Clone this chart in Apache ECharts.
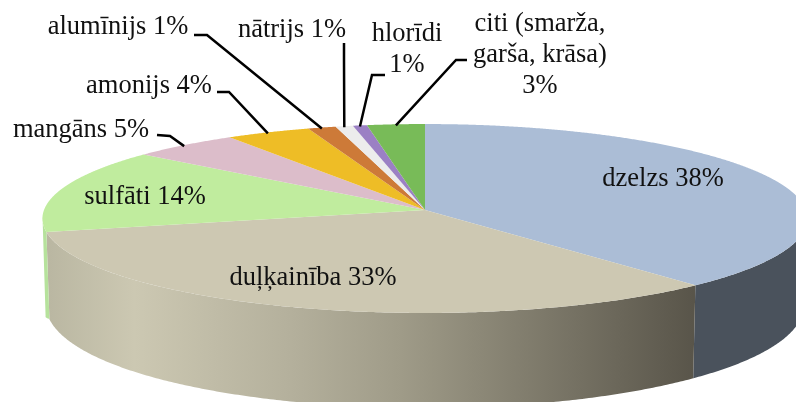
<!DOCTYPE html>
<html>
<head>
<meta charset="utf-8">
<style>
  html, body { margin: 0; padding: 0; background: #fff; }
  #chart { width: 796px; height: 402px; }
</style>
<script src="https://cdn.jsdelivr.net/npm/echarts@6/dist/echarts.min.js"></script>
</head>
<body>
<div id="chart"></div>
<script>
// clockwise from 12 o'clock (labels show them rounded)
var categories = ["dzelzs", "duļķainība", "sulfāti", "mangāns", "amonijs", "alumīnijs", "nātrijs", "hlorīdi", "citi (smarža,\ngarša, krāsa)"];
var shares = [38.49, 32.81, 14.45, 4.95, 3.9, 1.3, 0.8, 0.65, 2.65];
var topColors = ["#abbdd6", "#cdc8b2", "#c0ec9e", "#dcbdca", "#eebd26", "#cd7a38", "#ececec", "#9b80c4", "#78bb58"];
var wrapped = ["hlorīdi", "citi (smarža,\ngarša, krāsa)"];

// where the labels sit, and the elbow of each leader line (null = no leader)
var labelPos = [[663, 179], [313, 278], [145, 197], [81, 130], [149, 86], [118, 27], [292, 30], [407, 50], [540, 55]];
var leaders = [null, null, null, [[157, 135], [170, 136]], [[217, 92], [229, 92]], [[194, 35], [207, 35]], [[344, 43], [344, 60]], [[385, 75], [372, 75]], [[467, 60], [456, 60]]];

var total = shares.reduce(function (a, b) { return a + b; }, 0);
var acc = 0;
var rows = shares.map(function (v) {
  var row = [acc / total * 360, (acc + v) / total * 360, v];
  acc += v;
  return row;
});

// perspective projection of the disc
var cx = 425, cy = 210, rx = 381, ry = 93.7, k = -0.09;

function rim(deg) {
  var a = deg * Math.PI / 180;
  var u = Math.sin(a), v = -Math.cos(a);
  var d = 1 + k * v;
  return [cx + rx * u / d, cy + ry * v / d, v];
}

function lower(deg) {
  var p = rim(deg);
  var depth = p[2] < 0.23 ? 87 + (0.23 - p[2]) * 80 : 80 + 15 * Math.sqrt(p[2]);
  return [cx + (p[0] - cx) * 0.992, p[1] + depth];
}

function sideFill(i) {
  if (i === 0) return "#4a525c";
  if (i === 2) return "#b6e29c";
  return new echarts.graphic.LinearGradient(44, 0, 693, 0, [
    { offset: 0, color: "#b9b6a1" },
    { offset: 0.14, color: "#ccc8b2" },
    { offset: 0.38, color: "#b4b09c" },
    { offset: 0.55, color: "#9f9b88" },
    { offset: 1, color: "#59554a" }
  ], true);
}

function renderSlice(params, api) {
  var i = params.dataIndex;
  var start = api.value(0), end = api.value(1);
  var children = [];
  var deg;

  // wall, only for the part facing the viewer
  var wallFrom = Math.max(start, 85), wallTo = Math.min(end, 266);
  if (wallFrom < wallTo) {
    var up = [], down = [];
    for (deg = wallFrom; deg < wallTo; deg += 0.5) {
      up.push(rim(deg));
      down.unshift(lower(deg));
    }
    up.push(rim(wallTo));
    down.unshift(lower(wallTo));
    children.push({
      type: "polygon",
      shape: { points: up.map(function (p) { return [p[0], p[1]]; }).concat(down) },
      style: { fill: sideFill(i) }
    });
  }

  // top face
  var pts = [[cx, cy]];
  for (deg = start; deg < end; deg += 0.25) {
    var p = rim(deg);
    pts.push([p[0], p[1]]);
  }
  var last = rim(end);
  pts.push([last[0], last[1]]);
  children.push({ type: "polygon", shape: { points: pts }, style: { fill: topColors[i] } });

  // leader line, ends on the rim at the middle of the slice
  if (leaders[i]) {
    var m = rim((start + end) / 2);
    children.push({
      type: "polyline",
      z2: 5,
      shape: { points: leaders[i].concat([[m[0], m[1] + 1]]) },
      style: { stroke: "#000", lineWidth: 2.5, fill: null }
    });
  }

  var name = categories[i];
  var pct = Math.round(api.value(2)) + "%";
  children.push({
    type: "text",
    z2: 10,
    style: {
      x: labelPos[i][0],
      y: labelPos[i][1],
      text: name + (wrapped.indexOf(name) >= 0 ? "\n" : " ") + pct,
      fill: "#111",
      font: "26.5px 'Liberation Serif'",
      lineHeight: 31,
      textAlign: "center",
      textVerticalAlign: "middle"
    }
  });

  return { type: "group", children: children };
}

var myChart = echarts.init(document.getElementById("chart"));
myChart.setOption({
  animation: false,
  backgroundColor: "#fff",
  series: [
    {
      type: "custom",
      coordinateSystem: "none",
      silent: true,
      clip: false,
      renderItem: renderSlice,
      data: rows
    }
  ]
});
</script>
</body>
</html>
